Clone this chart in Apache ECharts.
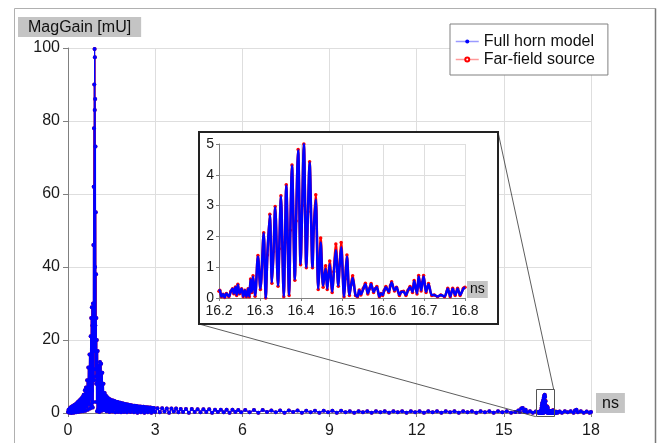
<!DOCTYPE html>
<html>
<head>
<meta charset="utf-8">
<script src="https://cdn.jsdelivr.net/npm/echarts@6/dist/echarts.min.js"></script>
<style>
  html, body { margin: 0; padding: 0; background: #fff; }
  #chart { width: 659px; height: 443px; }
</style>
</head>
<body>
<div id="chart"></div>
<script>
// Magnitude of the gain [mU] against time [ns], pairs of [t, value]

// 0 .. 3 ns: main pulse and its ringing
const hornNear = [
  [0.00,0.3],[0.02,0.9],[0.04,0.1],[0.06,1.3],[0.08,0.2],[0.10,1.6],[0.12,0.0],[0.14,1.8],[0.16,0.4],[0.18,2.0],
  [0.20,0.1],[0.22,2.2],[0.24,0.6],[0.26,2.4],[0.28,0.2],[0.30,2.7],[0.32,0.9],[0.34,3.0],[0.36,0.3],[0.38,3.3],
  [0.40,1.0],[0.42,3.6],[0.44,0.4],[0.46,4.0],[0.48,1.2],[0.50,4.4],[0.52,0.5],[0.54,5.0],[0.56,1.4],[0.58,6.2],
  [0.60,0.6],[0.62,7.0],[0.64,1.8],[0.66,9.0],[0.68,0.9],[0.70,12.5],[0.72,2.5],[0.74,16.0],[0.76,1.2],[0.78,21.0],
  [0.79,4.0],[0.80,26.0],[0.81,2.0],[0.82,29.0],[0.83,6.0],[0.84,24.0],[0.85,1.5],[0.86,30.0],[0.87,3.0],[0.875,46],
  [0.88,12],[0.885,62],[0.89,20],[0.895,78],[0.90,9],[0.905,90],[0.91,17],[0.915,99.7],[0.92,83],[0.925,97.5],
  [0.93,40],[0.935,86],[0.94,24],[0.945,73],[0.95,12],[0.955,55],[0.96,10],[0.965,38],[0.97,8],[0.975,26],
  [0.98,3],[0.99,20],[1.00,0.5],[1.02,17],[1.04,1.0],[1.06,13],[1.08,0.3],[1.10,14],[1.12,1.2],[1.14,13.5],
  [1.16,0.6],[1.18,11],[1.20,1.5],[1.22,8],[1.24,0.8],[1.26,5.5],[1.28,1.0],
  [1.300,4.8],[1.325,0.5],[1.350,4.3],[1.375,0.9],[1.400,4.0],[1.425,0.3],[1.450,3.7],[1.475,1.1],[1.500,3.5],
  [1.525,0.4],[1.550,3.4],[1.575,1.2],[1.600,3.3],[1.625,0.2],[1.650,3.1],[1.675,0.9],[1.700,3.0],[1.725,0.3],
  [1.750,2.9],[1.775,1.0],[1.800,2.8],[1.825,0.2],[1.850,2.7],[1.875,0.8],[1.900,2.6],[1.925,0.3],[1.950,2.5],
  [1.975,1.0],[2.000,2.4],[2.030,0.2],[2.060,2.3],[2.090,0.8],[2.120,2.2],[2.150,0.3],[2.180,2.1],[2.210,0.9],
  [2.240,2.0],[2.270,0.2],[2.300,2.0],[2.330,0.7],[2.360,1.9],[2.390,0.1],[2.420,1.8],[2.450,0.8],[2.480,1.8],
  [2.510,0.2],[2.540,1.7],[2.570,0.6],[2.600,1.7],[2.630,0.1],[2.660,1.6],[2.690,0.7],[2.720,1.6],[2.750,0.2],
  [2.780,1.5],[2.810,0.6],[2.840,1.5],[2.870,0.1],[2.900,1.4],[2.930,0.5],[2.960,1.4]
];

// 3 .. 16.2 ns: slowly decaying floor and the small echo near 15.6 ns
const hornFar = [
  [3.00,0.3],[3.08,1.3],[3.16,0.2],[3.24,1.3],[3.32,0.4],[3.40,1.2],[3.48,0.1],[3.56,1.2],[3.64,0.4],[3.72,1.2],
  [3.80,0.2],[3.88,1.1],[3.96,0.3],[4.06,1.1],[4.16,0.1],[4.26,1.1],[4.36,0.3],[4.46,1.0],[4.56,0.2],[4.66,1.0],
  [4.76,0.3],[4.86,1.0],[4.96,0.1],[5.06,0.9],[5.16,0.3],[5.26,0.9],[5.36,0.2],[5.46,0.9],[5.56,0.1],[5.66,0.9],
  [5.76,0.3],[5.86,0.8],[5.96,0.2],[6.10,0.8],[6.25,0.2],[6.40,0.8],[6.55,0.1],[6.70,0.8],[6.85,0.3],[7.00,0.7],
  [7.15,0.2],[7.30,0.7],[7.45,0.1],[7.60,0.7],[7.75,0.3],[7.90,0.7],[8.05,0.1],[8.20,0.6],[8.35,0.2],[8.50,0.6],
  [8.65,0.1],[8.80,0.6],[8.95,0.2],[9.10,0.6],[9.25,0.1],[9.40,0.6],[9.55,0.2],[9.70,0.5],[9.85,0.1],[10.00,0.5],
  [10.15,0.2],[10.30,0.5],[10.45,0.1],[10.60,0.5],[10.75,0.2],[10.90,0.5],[11.05,0.1],[11.20,0.5],[11.35,0.2],[11.50,0.5],
  [11.65,0.1],[11.80,0.5],[11.95,0.2],[12.10,0.5],[12.25,0.1],[12.40,0.5],[12.55,0.2],[12.70,0.5],[12.85,0.1],[13.00,0.5],
  [13.15,0.2],[13.30,0.5],[13.45,0.1],[13.60,0.5],[13.75,0.2],[13.90,0.5],[14.05,0.1],[14.20,0.5],[14.35,0.2],[14.50,0.5],
  [14.65,0.1],[14.80,0.5],[14.95,0.2],[15.10,0.5],[15.25,0.1],[15.40,0.3],[15.50,0.7],[15.55,0.3],[15.60,1.2],[15.65,1.4],
  [15.70,0.5],[15.75,0.9],[15.80,0.2],[15.90,0.5],[16.00,0.1],[16.10,0.4]
];

// 16.2 .. 16.8 ns: late echo, full horn model
const hornZoom = [
  [16.200,0.22],[16.202,0.25],[16.206,0.05],[16.210,0.12],[16.214,0.02],[16.218,0.15],[16.224,0.05],[16.229,0.22],
  [16.233,0.30],[16.236,0.15],[16.240,0.35],[16.243,0.10],[16.246,0.43],[16.250,0.15],[16.255,0.30],[16.259,0.05],
  [16.263,0.25],[16.267,0.05],[16.271,0.30],[16.274,0.05],[16.277,0.60],[16.280,0.20],[16.283,0.70],[16.288,0.08],
  [16.295,1.35],[16.301,0.30],[16.309,2.10],[16.314,0.00],[16.318,1.40],[16.324,2.70],[16.329,0.50],[16.333,1.50],
  [16.337,2.95],[16.344,0.40],[16.347,1.60],[16.351,3.30],[16.358,0.05],[16.361,1.80],[16.364,3.65],[16.371,0.10],
  [16.374,2.20],[16.378,4.30],[16.385,0.60],[16.388,2.50],[16.393,4.80],[16.399,1.10],[16.403,3.00],[16.407,5.00],
  [16.413,1.00],[16.417,2.80],[16.421,4.40],[16.428,1.00],[16.431,2.20],[16.436,3.20],[16.442,0.30],[16.445,1.00],
  [16.448,1.80],[16.454,0.40],[16.460,0.95],[16.464,0.30],[16.470,1.10],[16.476,0.20],[16.480,0.80],[16.485,1.55],
  [16.491,0.40],[16.494,1.00],[16.498,1.65],[16.505,0.05],[16.508,0.60],[16.512,1.35],[16.518,0.10],[16.522,0.40],
  [16.526,0.65],[16.533,0.10],[16.538,0.05],[16.542,0.25],[16.546,0.12],[16.552,0.30],[16.557,0.45],[16.563,0.15],
  [16.567,0.30],[16.571,0.45],[16.577,0.20],[16.581,0.30],[16.585,0.35],[16.591,0.05],[16.595,0.15],[16.599,0.10],
  [16.603,0.25],[16.607,0.35],[16.614,0.20],[16.618,0.40],[16.621,0.50],[16.628,0.25],[16.633,0.35],[16.640,0.10],
  [16.645,0.20],[16.650,0.20],[16.656,0.10],[16.661,0.25],[16.666,0.35],[16.672,0.20],[16.676,0.55],[16.683,0.15],
  [16.687,0.70],[16.693,0.25],[16.696,0.50],[16.699,0.70],[16.705,0.20],[16.711,0.45],[16.719,0.10],[16.725,0.10],
  [16.733,0.05],[16.741,0.10],[16.750,0.05],[16.758,0.30],[16.764,0.05],[16.770,0.30],[16.776,0.10],[16.782,0.30],
  [16.788,0.10],[16.796,0.30],[16.800,0.35]
];

// 16.2 .. 16.8 ns: late echo, far-field source
const sourceZoom = [
  [16.200,0.22],[16.202,0.25],[16.206,0.04],[16.210,0.12],[16.214,0.02],[16.218,0.15],[16.224,0.04],[16.229,0.22],
  [16.233,0.30],[16.236,0.14],[16.240,0.36],[16.243,0.08],[16.246,0.45],[16.250,0.14],[16.255,0.30],[16.259,0.04],
  [16.263,0.25],[16.267,0.04],[16.271,0.30],[16.274,0.04],[16.277,0.62],[16.280,0.18],[16.283,0.72],[16.288,0.06],
  [16.295,1.38],[16.301,0.28],[16.309,2.12],[16.314,0.00],[16.318,1.40],[16.324,2.72],[16.329,0.48],[16.333,1.50],
  [16.337,2.97],[16.344,0.38],[16.347,1.60],[16.351,3.32],[16.358,0.04],[16.361,1.80],[16.364,3.68],[16.371,0.08],
  [16.374,2.20],[16.378,4.32],[16.385,0.58],[16.388,2.50],[16.393,4.82],[16.399,1.08],[16.403,3.00],[16.407,5.00],
  [16.413,0.98],[16.417,2.80],[16.421,4.42],[16.428,0.98],[16.431,2.25],[16.436,3.35],[16.442,0.28],[16.445,1.05],
  [16.448,1.95],[16.454,0.35],[16.460,1.05],[16.464,0.28],[16.470,1.20],[16.476,0.18],[16.480,0.85],[16.485,1.75],
  [16.491,0.38],[16.494,1.05],[16.498,1.80],[16.505,0.04],[16.508,0.62],[16.512,1.40],[16.518,0.08],[16.522,0.42],
  [16.526,0.72],[16.533,0.08],[16.538,0.04],[16.542,0.26],[16.546,0.10],[16.552,0.32],[16.557,0.48],[16.563,0.13],
  [16.567,0.30],[16.571,0.47],[16.577,0.18],[16.581,0.30],[16.585,0.37],[16.591,0.04],[16.595,0.15],[16.599,0.08],
  [16.603,0.25],[16.607,0.37],[16.614,0.18],[16.618,0.40],[16.621,0.53],[16.628,0.23],[16.633,0.35],[16.640,0.08],
  [16.645,0.20],[16.650,0.22],[16.656,0.08],[16.661,0.25],[16.666,0.37],[16.672,0.18],[16.676,0.57],[16.683,0.13],
  [16.687,0.73],[16.693,0.23],[16.696,0.50],[16.699,0.73],[16.705,0.18],[16.711,0.47],[16.719,0.08],[16.725,0.10],
  [16.733,0.04],[16.741,0.10],[16.750,0.04],[16.758,0.32],[16.764,0.04],[16.770,0.32],[16.776,0.08],[16.782,0.32],
  [16.788,0.08],[16.796,0.32],[16.800,0.35]
];

// 16.8 .. 18 ns: residual floor
const hornTail = [
  [16.85,0.1],[16.92,0.4],[17.00,0.1],[17.10,0.5],[17.20,0.2],[17.30,0.5],[17.40,0.1],[17.45,0.7],
  [17.50,0.9],[17.55,0.2],[17.65,0.5],[17.75,0.1],[17.85,0.4],[17.95,0.1],[18.00,0.3]
];

const seriesNames = ['Full horn model', 'Far-field source'];
const xTicks = { min: 0, max: 18, step: 3 };
const yTicks = { min: 0, max: 100, step: 20 };
const zoomXTicks = { min: 16.2, max: 16.8, step: 0.1 };
const zoomYTicks = { min: 0, max: 5, step: 1 };
// region of the main plot that is shown magnified in the inset
const zoomWindow = { t0: 16.1, t1: 16.715, v0: -1.0, v1: 6.5 };

const horn = hornNear.concat(hornFar, hornZoom, hornTail);
const source = hornNear.concat(hornFar, sourceZoom, hornTail);

const FONT = '"Liberation Sans", Arial, sans-serif';
const BLUE = '#0000ff';
const RED = '#ff0000';
const GRID_LINE = '#dedede';
const AXIS_LINE = '#808080';
const NAME_BG = '#c4c4c4';

const mainGrid = { left: 68, top: 48, width: 523, height: 365 };
const insetGrid = { left: 219, top: 144, width: 246, height: 154 };
const insetFrame = { left: 20, top: 12, right: 33, bottom: 26 };

const chart = echarts.init(document.getElementById('chart'), null, { renderer: 'canvas' });

function valueAxis(idx, ticks, fontSize, margin, z, extra) {
  return Object.assign({
    type: 'value',
    gridIndex: idx,
    min: ticks.min,
    max: ticks.max,
    interval: ticks.step,
    z: z,
    axisLine: { show: true, onZero: false, lineStyle: { color: AXIS_LINE, width: 1 } },
    axisTick: { show: true, length: 4, lineStyle: { color: AXIS_LINE } },
    axisLabel: { fontSize: fontSize, color: '#1a1a1a', fontFamily: FONT, margin: margin },
    splitLine: { show: true, lineStyle: { color: GRID_LINE, width: 1 } }
  }, extra || {});
}

const option = {
  animation: false,
  backgroundColor: '#ffffff',
  textStyle: { fontFamily: FONT },
  legend: {
    orient: 'vertical',
    left: 450,
    top: 24,
    padding: [9, 13, 7, 5],
    itemGap: 1,
    itemWidth: 23,
    itemHeight: 5,
    backgroundColor: '#ffffff',
    borderColor: '#808080',
    borderWidth: 1,
    borderRadius: 0,
    textStyle: { fontSize: 16, color: '#111', fontFamily: FONT, lineHeight: 17 },
    data: [
      { name: seriesNames[0], lineStyle: { color: '#9a9aff', width: 1.5 } },
      { name: seriesNames[1], lineStyle: { color: '#ff9a9a', width: 1.5 } }
    ]
  },
  grid: [
    Object.assign({ containLabel: false }, mainGrid),
    Object.assign({ containLabel: false, z: 6 }, insetGrid)
  ],
  xAxis: [
    valueAxis(0, xTicks, 16, 10, 0, {
      name: 'ns',
      nameLocation: 'end',
      nameGap: 5,
      nameTextStyle: {
        fontSize: 16, color: '#111', fontFamily: FONT, align: 'left', verticalAlign: 'bottom',
        backgroundColor: NAME_BG, padding: [2, 6, 1, 6], lineHeight: 17
      }
    }),
    valueAxis(1, zoomXTicks, 14, 6, 6, {
      axisLabel: {
        fontSize: 14, color: '#1a1a1a', fontFamily: FONT, margin: 6,
        formatter: function (v) { return v.toFixed(1); }
      },
      axisTick: { show: true, length: 3, lineStyle: { color: AXIS_LINE } },
      name: 'ns',
      nameLocation: 'end',
      nameGap: 2,
      nameTextStyle: {
        fontSize: 14, color: '#111', fontFamily: FONT, align: 'left', verticalAlign: 'bottom',
        backgroundColor: NAME_BG, padding: [1, 3, 1, 3], lineHeight: 15
      }
    })
  ],
  yAxis: [
    valueAxis(0, yTicks, 16, 8, 0, { axisTick: { show: true, length: 5, lineStyle: { color: AXIS_LINE } } }),
    valueAxis(1, zoomYTicks, 14, 5, 6, { axisTick: { show: true, length: 3, lineStyle: { color: AXIS_LINE } } })
  ],
  series: [
    {
      name: seriesNames[0],
      type: 'line',
      xAxisIndex: 0, yAxisIndex: 0,
      data: horn,
      showSymbol: true, showAllSymbol: true,
      symbol: 'circle', symbolSize: 4,
      lineStyle: { color: BLUE, width: 1.2 },
      itemStyle: { color: BLUE },
      z: 3
    },
    {
      name: seriesNames[1],
      type: 'line',
      xAxisIndex: 0, yAxisIndex: 0,
      data: source,
      showSymbol: true, showAllSymbol: true,
      symbol: 'emptyCircle', symbolSize: 2,
      lineStyle: { color: RED, width: 1 },
      itemStyle: { color: RED, borderColor: RED, borderWidth: 1 },
      z: 2
    },
    {
      name: seriesNames[1],
      type: 'line',
      xAxisIndex: 1, yAxisIndex: 1,
      data: sourceZoom,
      smooth: 0.3,
      showSymbol: true, showAllSymbol: true,
      symbol: 'circle', symbolSize: 3.5,
      lineStyle: { color: RED, width: 2.5 },
      itemStyle: { color: RED },
      z: 7
    },
    {
      name: seriesNames[0],
      type: 'line',
      xAxisIndex: 1, yAxisIndex: 1,
      data: hornZoom,
      smooth: 0.3,
      showSymbol: false,
      lineStyle: { color: BLUE, width: 2.5 },
      itemStyle: { color: BLUE },
      z: 8
    }
  ]
};

chart.setOption(option);

// Inset frame, magnifier box and connector lines, placed from the axes' own scales
const tl = chart.convertToPixel({ gridIndex: 0 }, [zoomWindow.t0, zoomWindow.v1]);
const br = chart.convertToPixel({ gridIndex: 0 }, [zoomWindow.t1, zoomWindow.v0]);
const fx0 = insetGrid.left - insetFrame.left;
const fy0 = insetGrid.top - insetFrame.top;
const fx1 = insetGrid.left + insetGrid.width + insetFrame.right;
const fy1 = insetGrid.top + insetGrid.height + insetFrame.bottom;

chart.setOption({
  graphic: [
    {
      type: 'rect', z: 0, silent: true,
      shape: { x: 14.5, y: 8.5, width: 641, height: 470 },
      style: { fill: 'none', stroke: '#b0b0b0', lineWidth: 1 }
    },
    {
      type: 'line', z: 0, silent: true,
      shape: { x1: 655.5, y1: 8.5, x2: 655.5, y2: 443 },
      style: { stroke: '#7a7a7a', lineWidth: 1.5 }
    },
    {
      type: 'text', z: 10, silent: true,
      x: 18, y: 17,
      style: {
        text: 'MagGain [mU]', fontSize: 16, fontFamily: FONT, fill: '#111',
        backgroundColor: NAME_BG, padding: [2, 10, 1, 10], lineHeight: 17,
        verticalAlign: 'top', align: 'left'
      }
    },
    {
      type: 'rect', z: 4, silent: true,
      shape: { x: Math.round(tl[0]) + 0.5, y: Math.round(tl[1]) + 0.5,
               width: Math.round(br[0] - tl[0]), height: Math.round(br[1] - tl[1]) },
      style: { fill: 'none', stroke: '#555', lineWidth: 1 }
    },
    {
      type: 'line', z: 4, silent: true,
      shape: { x1: fx0, y1: fy1, x2: tl[0], y2: br[1] },
      style: { stroke: '#333', lineWidth: 0.8 }
    },
    {
      type: 'line', z: 4, silent: true,
      shape: { x1: fx1, y1: fy0, x2: br[0], y2: tl[1] },
      style: { stroke: '#333', lineWidth: 0.8 }
    },
    {
      type: 'rect', z: 5, silent: true,
      shape: { x: fx0, y: fy0, width: fx1 - fx0, height: fy1 - fy0 },
      style: { fill: '#ffffff', stroke: '#222', lineWidth: 2 }
    }
  ]
});
</script>
</body>
</html>
